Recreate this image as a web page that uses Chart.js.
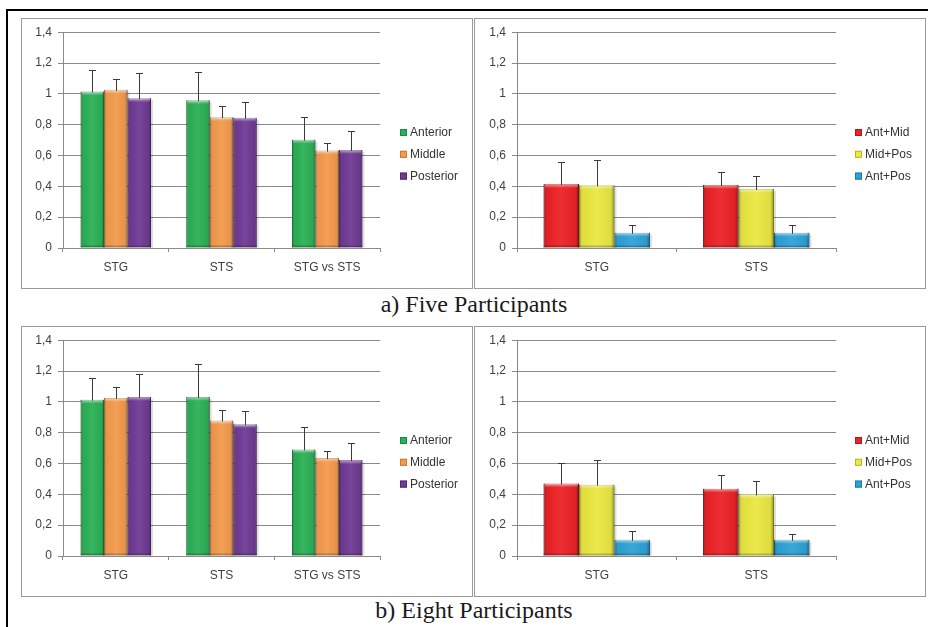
<!DOCTYPE html>
<html>
<head>
<meta charset="utf-8">
<title>STG / STS region ratios</title>
<script src="https://cdn.jsdelivr.net/npm/chart.js@4/dist/chart.umd.min.js"></script>
<style>
  html, body { margin: 0; padding: 0; background: #fff; }
  body { width: 928px; height: 627px; position: relative; overflow: hidden; }
  .rule { position: absolute; background: #000; }
  .panel { position: absolute; width: 450px; height: 269px; border: 1px solid #9a9a9a; background: #fff; }
  .panel canvas { display: block; }
  .caption { position: absolute; left: 274px; width: 400px; text-align: center;
             font: 24px "Liberation Serif", "Times New Roman", serif; line-height: 24px; color: #1a1a1a; }
</style>
</head>
<body>
<div class="rule" style="left:6px;top:9px;width:922px;height:2px"></div>
<div class="rule" style="left:6px;top:9px;width:2px;height:618px"></div>

<div class="panel" style="left:21px;top:18px"><canvas id="fiveRegions" width="450" height="269"></canvas></div>
<div class="panel" style="left:474px;top:18px"><canvas id="fivePairs" width="450" height="269"></canvas></div>
<div class="caption" style="top:292px">a) Five Participants</div>

<div class="panel" style="left:21px;top:326px"><canvas id="eightRegions" width="450" height="269"></canvas></div>
<div class="panel" style="left:474px;top:326px"><canvas id="eightPairs" width="450" height="269"></canvas></div>
<div class="caption" style="top:598px">b) Eight Participants</div>

<script>
// ---- data ----
const regionLabels = ['STG', 'STS', 'STG vs STS'];
const pairLabels = ['STG', 'STS'];
const yTickLabels = ['0', '0,2', '0,4', '0,6', '0,8', '1', '1,2', '1,4'];

const regionSeries = ['Anterior', 'Middle', 'Posterior'];
const pairSeries = ['Ant+Mid', 'Mid+Pos', 'Ant+Pos'];

// five participants: means and error-bar lengths
const fiveAnterior = [1.015, 0.959, 0.703];
const fiveAnteriorErr = [0.143, 0.184, 0.146];
const fiveMiddle = [1.026, 0.849, 0.632];
const fiveMiddleErr = [0.069, 0.071, 0.047];
const fivePosterior = [0.972, 0.845, 0.636];
const fivePosteriorErr = [0.164, 0.101, 0.123];

const fiveAntMid = [0.415, 0.409];
const fiveAntMidErr = [0.145, 0.082];
const fiveMidPos = [0.407, 0.383];
const fiveMidPosErr = [0.163, 0.086];
const fiveAntPos = [0.099, 0.099];
const fiveAntPosErr = [0.047, 0.047];

// eight participants
const eightAnterior = [1.014, 1.032, 0.691];
const eightAnteriorErr = [0.144, 0.213, 0.147];
const eightMiddle = [1.025, 0.879, 0.635];
const eightMiddleErr = [0.071, 0.069, 0.045];
const eightPosterior = [1.032, 0.855, 0.622];
const eightPosteriorErr = [0.150, 0.086, 0.112];

const eightAntMid = [0.470, 0.437];
const eightAntMidErr = [0.135, 0.091];
const eightMidPos = [0.463, 0.400];
const eightMidPosErr = [0.162, 0.086];
const eightAntPos = [0.105, 0.105];
const eightAntPosErr = [0.055, 0.039];

// ---- styling ----
const regionColors = ['#2bb055', '#f39a4c', '#6f3a93'];
const regionEdges = ['#1d8a3f', '#c9783a', '#54296f'];
const pairColors = ['#ec2226', '#eae841', '#2ea2d6'];
const pairEdges = ['#b0161a', '#b8b628', '#1d7aa6'];

Chart.defaults.font.family = '"Liberation Sans", Arial, sans-serif';
Chart.defaults.font.size = 12;
Chart.defaults.color = '#404040';
Chart.defaults.animation = false;

const gridGray = '#8a8a8a';

// shaded, bevelled bars with a faint drop shadow and error bars on top
const barDecor = {
  id: 'barDecor',
  beforeDatasetsDraw(chart) {
    const ctx = chart.ctx;
    ctx.save();
    chart.data.datasets.forEach((ds, i) => {
      chart.getDatasetMeta(i).data.forEach(bar => {
        const p = bar.getProps(['x', 'y', 'base', 'width'], true);
        ctx.fillStyle = 'rgba(0,0,0,0.13)';
        ctx.fillRect(p.x - p.width / 2 + 2, p.y + 2, p.width, p.base - p.y - 2);
      });
    });
    ctx.restore();
  },
  afterDatasetsDraw(chart) {
    const ctx = chart.ctx;
    const yScale = chart.scales.y;
    ctx.save();
    chart.data.datasets.forEach((ds, i) => {
      chart.getDatasetMeta(i).data.forEach(bar => {
        const p = bar.getProps(['x', 'y', 'base', 'width'], true);
        const l = p.x - p.width / 2, r = p.x + p.width / 2, h = p.base - p.y;
        const g = ctx.createLinearGradient(l, 0, r, 0);
        g.addColorStop(0, 'rgba(0,0,0,0.30)');
        g.addColorStop(0.09, 'rgba(0,0,0,0.04)');
        g.addColorStop(0.5, 'rgba(255,255,255,0.06)');
        g.addColorStop(0.9, 'rgba(0,0,0,0.05)');
        g.addColorStop(1, 'rgba(0,0,0,0.38)');
        ctx.fillStyle = g;
        ctx.fillRect(l, p.y, p.width, h);
        const t = ctx.createLinearGradient(0, p.y, 0, p.y + 4);
        t.addColorStop(0, 'rgba(255,255,255,0.55)');
        t.addColorStop(1, 'rgba(255,255,255,0)');
        ctx.fillStyle = t;
        ctx.fillRect(l + 1, p.y, p.width - 2, Math.min(4, h));
        ctx.fillStyle = 'rgba(0,0,0,0.22)';
        ctx.fillRect(l, p.base - 2, p.width, 2);
      });
    });
    // error bars
    ctx.strokeStyle = '#3a3a3a';
    ctx.lineWidth = 1;
    chart.data.datasets.forEach((ds, i) => {
      chart.getDatasetMeta(i).data.forEach((bar, j) => {
        const p = bar.getProps(['x', 'y'], true);
        const x = Math.round(p.x) + 0.5;
        const top = Math.round(yScale.getPixelForValue(ds.data[j] + ds.errors[j])) + 0.5;
        ctx.beginPath();
        ctx.moveTo(x, p.y + 1);
        ctx.lineTo(x, top);
        ctx.moveTo(x - 3.5, top);
        ctx.lineTo(x + 3.5, top);
        ctx.stroke();
      });
    });
    ctx.restore();
  }
};

// compact legend to the right of the plot
const sideLegend = {
  id: 'sideLegend',
  afterDraw(chart, args, opts) {
    const ctx = chart.ctx;
    ctx.save();
    ctx.font = '12px "Liberation Sans", Arial, sans-serif';
    ctx.textBaseline = 'middle';
    ctx.textAlign = 'left';
    chart.data.datasets.forEach((ds, i) => {
      const cy = opts.top + i * opts.step;
      ctx.fillStyle = ds.backgroundColor;
      ctx.fillRect(opts.left, cy - 3.5, 7, 7);
      ctx.strokeStyle = ds.borderColor;
      ctx.lineWidth = 1;
      ctx.strokeRect(opts.left + 0.5, cy - 3, 6, 6);
      ctx.fillStyle = '#333';
      ctx.fillText(ds.label, opts.left + 10, cy + 0.5);
    });
    ctx.restore();
  }
};

function makeDatasets(names, values, errors, colors, edges) {
  return names.map((name, i) => ({
    label: name,
    data: values[i],
    errors: errors[i],
    backgroundColor: colors[i],
    borderColor: edges[i],
    borderWidth: 1,
    categoryPercentage: 0.667,
    barPercentage: 1.0
  }));
}

function drawPanel(id, labels, datasets, axisWidth, rightPad, legendLeft) {
  new Chart(document.getElementById(id), {
    type: 'bar',
    data: { labels: labels, datasets: datasets },
    options: {
      responsive: false,
      maintainAspectRatio: false,
      devicePixelRatio: 1,
      layout: { padding: { left: 0, top: 12.5, right: rightPad, bottom: 0 } },
      plugins: {
        legend: { display: false },
        tooltip: { enabled: false },
        sideLegend: { left: legendLeft, top: 113.5, step: 21.8 }
      },
      scales: {
        x: {
          offset: true,
          grid: { display: true, drawOnChartArea: false, drawTicks: true, tickLength: 4, color: gridGray, offset: true },
          border: { display: true, color: gridGray },
          ticks: { padding: 8, color: '#404040', font: { size: 12 } },
          afterFit(s) { s.height = 40; }
        },
        y: {
          min: 0,
          max: 1.4,
          ticks: {
            stepSize: 0.2,
            padding: 6,
            color: '#404040',
            font: { size: 12 },
            callback: (v, i) => yTickLabels[i]
          },
          grid: { color: gridGray, tickLength: 5, drawTicks: true },
          border: { display: true, color: gridGray },
          afterFit(s) { s.width = axisWidth; }
        }
      }
    },
    plugins: [barDecor, sideLegend]
  });
}

drawPanel('fiveRegions', regionLabels,
  makeDatasets(regionSeries, [fiveAnterior, fiveMiddle, fivePosterior],
    [fiveAnteriorErr, fiveMiddleErr, fivePosteriorErr], regionColors, regionEdges),
  41, 92, 378);

drawPanel('fivePairs', pairLabels,
  makeDatasets(pairSeries, [fiveAntMid, fiveMidPos, fiveAntPos],
    [fiveAntMidErr, fiveMidPosErr, fiveAntPosErr], pairColors, pairEdges),
  42, 89, 380);

drawPanel('eightRegions', regionLabels,
  makeDatasets(regionSeries, [eightAnterior, eightMiddle, eightPosterior],
    [eightAnteriorErr, eightMiddleErr, eightPosteriorErr], regionColors, regionEdges),
  41, 92, 378);

drawPanel('eightPairs', pairLabels,
  makeDatasets(pairSeries, [eightAntMid, eightMidPos, eightAntPos],
    [eightAntMidErr, eightMidPosErr, eightAntPosErr], pairColors, pairEdges),
  42, 89, 380);
</script>
</body>
</html>
